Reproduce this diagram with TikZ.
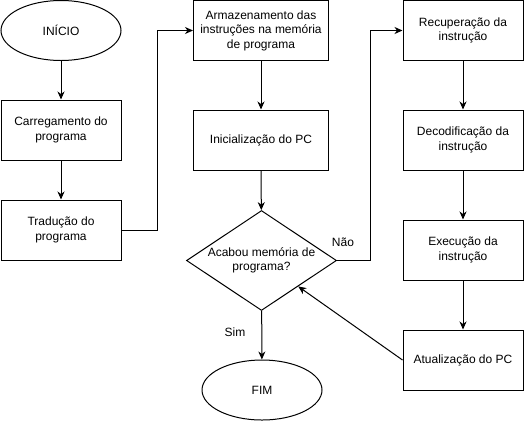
\documentclass[tikz,border=0pt]{standalone}
\usepackage{fontspec}
\setmainfont{Liberation Sans}
\usetikzlibrary{shapes.geometric,arrows.meta}
\begin{document}
\begin{tikzpicture}[x=1pt,y=-1pt,line width=1pt,
    font=\fontsize{12}{14.5}\selectfont,
    bloco/.style={draw,rectangle,minimum width=120pt,minimum height=60pt,inner sep=0pt,align=center},
    terminal/.style={draw,ellipse,minimum width=120pt,minimum height=60pt,inner sep=0pt},
    decisao/.style={draw,diamond,aspect=1.5,minimum width=150pt,minimum height=100pt,inner sep=0pt,align=center},
    seta/.style={-{Stealth[length=8pt,width=7pt,inset=2.5pt]}}]
    \useasboundingbox (0,0) rectangle (524,421);
    % coluna da esquerda
    \node[terminal] (inicio) at (61,30.5) {INÍCIO};
    \node[bloco] (carreg) at (61,130) {Carregamento do\\programa};
    \node[bloco] (trad) at (61,230) {Tradução do\\programa};
    % coluna do meio
    \node[bloco,minimum width=135pt] (armaz) at (261,30.5) {Armazenamento das\\instruções na memória\\de programa};
    \node[bloco,minimum width=135pt] (inic) at (261,140) {Inicialização do PC};
    \node[decisao] (acabou) at (261.5,260.5) {Acabou memória de\\programa?};
    \node[terminal] (fim) at (262,390) {FIM};
    % coluna da direita
    \node[bloco] (recup) at (463,30.5) {Recuperação da\\instrução};
    \node[bloco] (decod) at (463,140) {Decodificação da\\instrução};
    \node[bloco] (exec) at (463,250) {Execução da\\instrução};
    \node[bloco] (atual) at (463,360) {Atualização do PC};
    \coordinate (T1) at (157,230); \coordinate (T2) at (157,30.5);
    \coordinate (N1) at (370,260.5); \coordinate (N2) at (370,30.5);
    \draw[seta] (inicio)--(carreg); \draw[seta] (carreg)--(trad);
    \draw[seta] (trad.east)--(T1)--(T2)--(armaz.west);
    \draw[seta] (armaz)--(inic); \draw[seta] (inic)--(acabou);
    \draw[seta] (acabou)--(fim);
    \draw[seta] (acabou.east)--(N1)--(N2)--(recup.west);
    \draw[seta] (recup)--(decod); \draw[seta] (decod)--(exec);
    \draw[seta] (exec)--(atual); \draw[seta] (atual.west)--(acabou);
    \node (nao) at (343,242) {Não}; \node (sim) at (235,332) {Sim};
\end{tikzpicture}
\end{document}
